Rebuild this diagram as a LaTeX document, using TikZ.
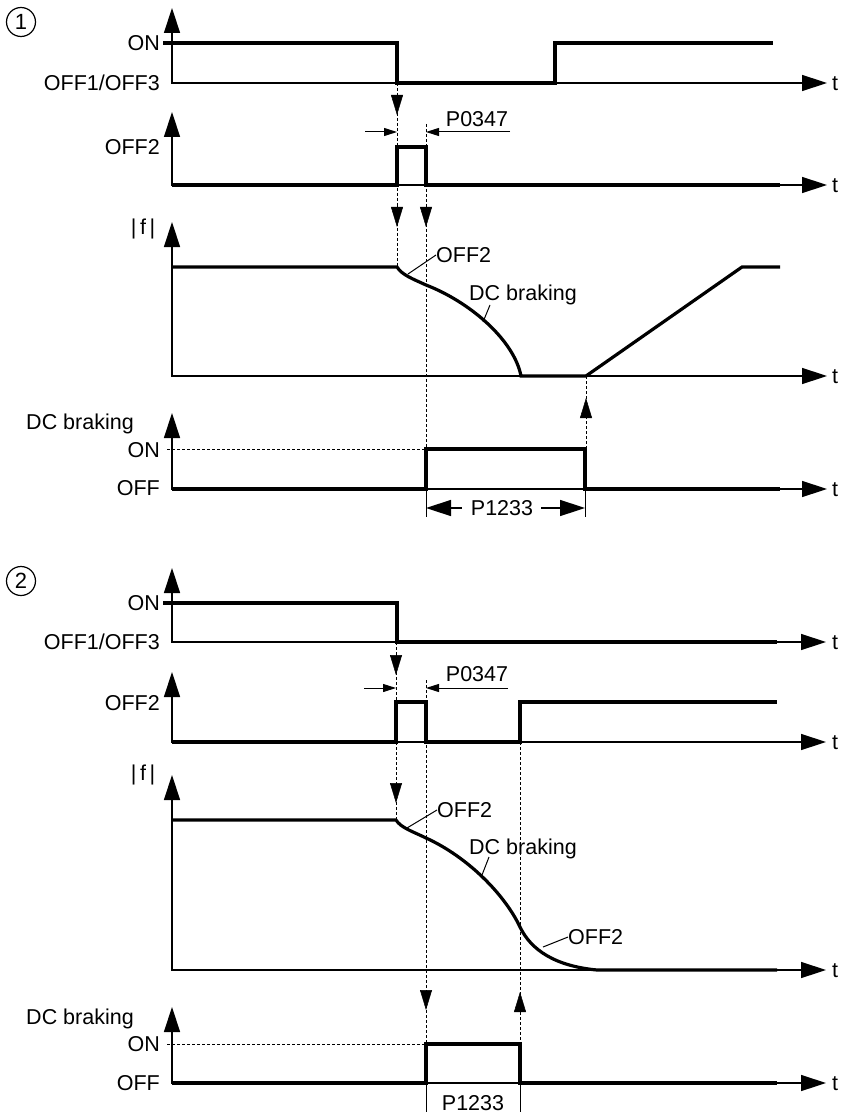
\documentclass[tikz,border=0pt]{standalone}
\usepackage{fontspec}
\setmainfont{Liberation Sans}
\usetikzlibrary{arrows.meta}
\begin{document}
\begin{tikzpicture}[x=1pt,y=-1pt,
 lbl/.style={font=\fontsize{21.5}{25}\selectfont, inner sep=0pt, text height=15pt, text depth=0pt},
 numc/.style={circle, draw, line width=1.2pt, minimum size=29pt, inner sep=0pt, font=\fontsize{22}{25}\selectfont},
 axis/.style={line width=1.4pt, line join=miter, {Triangle[length=25pt,width=16pt]}-{Triangle[length=25pt,width=16pt]}},
 sig/.style={line width=3.2pt, line join=miter},
 thinl/.style={line width=1pt},
 dline/.style={line width=1pt, dash pattern=on 3pt off 2pt},
 dtip/.style={line width=0.5pt, -{Triangle[length=20pt,width=12pt]}},
 dimsmall/.style={line width=1pt, -{Triangle[length=13pt,width=8pt]}},
 dimbig/.style={line width=1.5pt, -{Triangle[length=25pt,width=16pt]}}
]
\useasboundingbox (0,0) rectangle (840,1115);

% ================= Panel 1 =================
\node[numc] (c1) at (21,22) {1};
% dashed guides
\draw[dline] (397,83) -- (397,267);
\draw[dline] (426,124) -- (426,449);
\draw[dline] (586,376) -- (586,449);
\draw[dline] (167,449) -- (426,449);
% axes
\draw[axis] (172,8) -- (172,83) -- (827,83);
\draw[axis] (172,112) -- (172,185) -- (827,185);
\draw[axis] (172,222) -- (172,376) -- (827,376);
\draw[axis] (172,413) -- (172,489) -- (827,489);
% signals
\draw[sig] (163,43) -- (397,43) -- (397,83) -- (555,83) -- (555,43) -- (773,43);
\draw[sig] (172,185) -- (397,185) -- (397,147) -- (426,147) -- (426,185) -- (780,185);
\draw[sig] (172,267) -- (397,267) .. controls (402,275) and (413,279) .. (426,285)
  .. controls (470,302) and (514,340) .. (521,376) -- (586,376) -- (742,267) -- (780,267);
\draw[sig] (172,489) -- (426,489) -- (426,449) -- (585,449) -- (585,489) -- (780,489);
% arrow tips on dashed guides
\draw[dtip] (397,94) -- (397,115);
\draw[dtip] (397,206) -- (397,227);
\draw[dtip] (426,206) -- (426,227);
\draw[dtip] (586,419) -- (586,398);
% P0347
\draw[dimsmall] (365,132) -- (397,132);
\draw[dimsmall] (510,132) -- (426,132);
\node[lbl] (p0347a) at (477,119) {P0347};
% P1233
\draw[thinl] (426,489) -- (426,517);
\draw[thinl] (585,489) -- (585,517);
\node[lbl] (p1233a) at (502,508) {P1233};
\draw[dimbig] (p1233a.west) ++(-9,0) coordinate (pl1) -- (426,508);
\draw[dimbig] (p1233a.east) ++(8,0) coordinate (pr1) -- (585,508);
% labels
\node[lbl, anchor=east] (on1) at (160,43) {ON};
\node[lbl, anchor=east] (off13a) at (160,83) {OFF1/OFF3};
\node[lbl, anchor=east] (off2a) at (160,147) {OFF2};
\node[lbl] (fa) at (143,227) {|\,f\,|};
\node[lbl] (dca) at (80,422) {DC braking};
\node[lbl, anchor=east] (dconA) at (160,450) {ON};
\node[lbl, anchor=east] (dcoffA) at (160,488) {OFF};
\foreach \yy/\nm in {83/ta1,185/ta2,376/ta3,489/ta4}
  \node[lbl, anchor=west] (\nm) at (832,\yy) {t};
\node[lbl, anchor=west] (coff2a) at (436,255) {OFF2};
\node[lbl, anchor=west] (cdca) at (469,293) {DC braking};
\draw[thinl] (408,274) -- (coff2a.west);
\draw[thinl] (483,322) -- (490,305);

% ================= Panel 2 =================
\node[numc] (c2) at (21,581) {2};
\draw[dline] (396,642) -- (396,820);
\draw[dline] (426,680) -- (426,1044);
\draw[dline] (520,742) -- (520,1044);
\draw[dline] (167,1044) -- (426,1044);
\draw[axis] (172,568) -- (172,642) -- (826,642);
\draw[axis] (172,672) -- (172,742) -- (826,742);
\draw[axis] (172,775) -- (172,970) -- (826,970);
\draw[axis] (172,1007) -- (172,1083) -- (826,1083);
\draw[sig] (163,603) -- (397,603) -- (397,642) -- (777,642);
\draw[sig] (172,742) -- (396,742) -- (396,702) -- (426,702) -- (426,742) -- (520,742) -- (520,702) -- (777,702);
\draw[sig] (172,820) -- (396,820) .. controls (401,828) and (414,832) .. (426,838)
  .. controls (468,857) and (505,895) .. (520,927)
  .. controls (531,950) and (555,966) .. (597,970) -- (777,970);
\draw[sig] (172,1083) -- (426,1083) -- (426,1044) -- (520,1044) -- (520,1083) -- (777,1083);
\draw[dtip] (396,655) -- (396,675);
\draw[dtip] (396,783) -- (396,803);
\draw[dtip] (426,990) -- (426,1010);
\draw[dtip] (520,1012) -- (520,992);
\draw[dimsmall] (364,688) -- (396,688);
\draw[dimsmall] (508,688) -- (426,688);
\node[lbl] (p0347b) at (477,674) {P0347};
\draw[thinl] (426,1083) -- (426,1112);
\draw[thinl] (520,1083) -- (520,1112);
\node[lbl] (p1233b) at (473,1103) {P1233};
\node[lbl, anchor=east] (on2) at (160,603) {ON};
\node[lbl, anchor=east] (off13b) at (160,642) {OFF1/OFF3};
\node[lbl, anchor=east] (off2b) at (160,703) {OFF2};
\node[lbl] (fb) at (143,773) {|\,f\,|};
\node[lbl] (dcb) at (80,1017) {DC braking};
\node[lbl, anchor=east] (dconB) at (160,1044) {ON};
\node[lbl, anchor=east] (dcoffB) at (160,1083) {OFF};
\foreach \yy/\nm in {642/tb1,742/tb2,970/tb3,1083/tb4}
  \node[lbl, anchor=west] (\nm) at (832,\yy) {t};
\node[lbl, anchor=west] (coff2b) at (437,810) {OFF2};
\node[lbl, anchor=west] (cdcb) at (469,847) {DC braking};
\node[lbl, anchor=west] (coff2c) at (568,937) {OFF2};
\draw[thinl] (407,828) -- (coff2b.west);
\draw[thinl] (482,875) -- (489,857);
\draw[thinl] (543,947) -- (coff2c.west);
\end{tikzpicture}
\end{document}
